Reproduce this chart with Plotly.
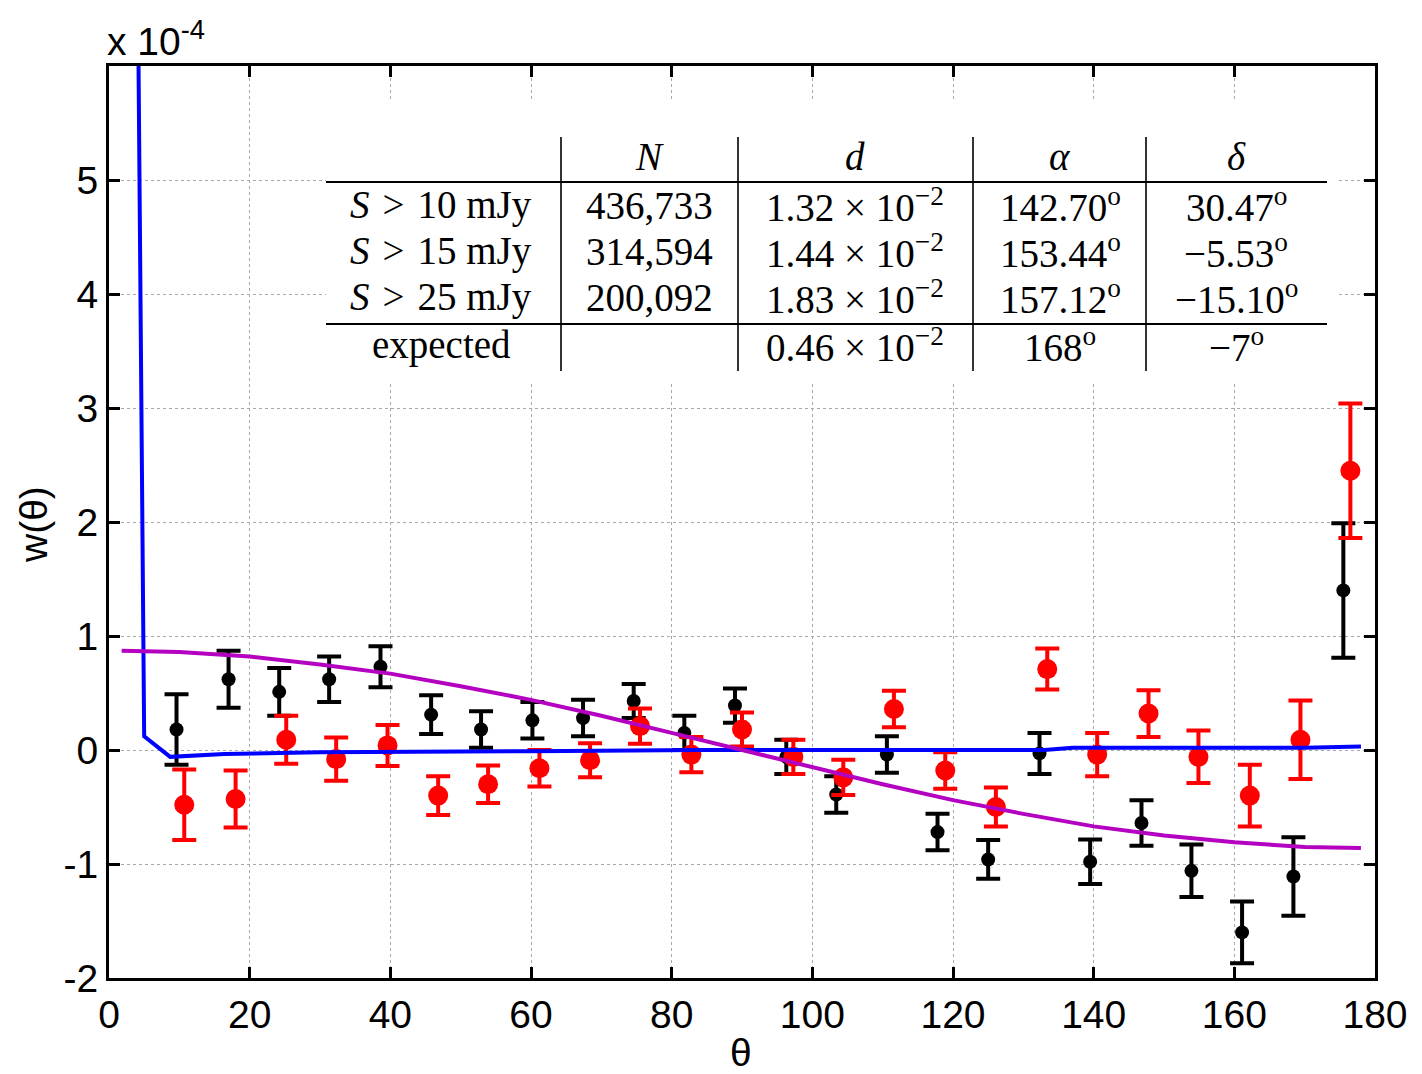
import plotly.graph_objects as go

# ---------------- data (w in units of 1e-4) ----------------
theta_black = [9.6, 17.0, 24.2, 31.3, 38.6, 45.8, 52.9, 60.2, 67.4, 74.6, 81.8, 89.0,
               96.3, 103.4, 110.6, 117.8, 125.0, 132.3, 139.5, 146.8, 153.9, 161.1, 168.4, 175.5]
w_black = [0.18, 0.62, 0.51, 0.62, 0.73, 0.31, 0.18, 0.26, 0.28, 0.43, 0.15, 0.39,
           -0.06, -0.39, -0.04, -0.72, -0.96, -0.03, -0.98, -0.64, -1.06, -1.60, -1.11, 1.40]
err_black = [0.31, 0.25, 0.21, 0.20, 0.18, 0.17, 0.16, 0.16, 0.16, 0.15, 0.15, 0.15,
             0.15, 0.16, 0.16, 0.16, 0.17, 0.18, 0.195, 0.20, 0.23, 0.27, 0.345, 0.59]

theta_red = [10.7, 18.0, 25.2, 32.3, 39.6, 46.8, 53.9, 61.2, 68.4, 75.5, 82.8, 90.0,
             97.3, 104.4, 111.6, 118.9, 126.1, 133.4, 140.5, 147.8, 154.9, 162.2, 169.4, 176.5]
w_red = [-0.48, -0.43, 0.09, -0.08, 0.04, -0.40, -0.30, -0.16, -0.09, 0.21, -0.04, 0.18,
         -0.06, -0.24, 0.36, -0.18, -0.50, 0.71, -0.04, 0.32, -0.06, -0.40, 0.09, 2.45]
err_red = [0.31, 0.25, 0.21, 0.19, 0.18, 0.17, 0.165, 0.16, 0.15, 0.155, 0.155, 0.15,
           0.15, 0.155, 0.16, 0.16, 0.17, 0.18, 0.19, 0.205, 0.23, 0.27, 0.345, 0.59]

theta_blue = [4.2, 5.0, 8.7, 16.4, 30, 46, 60, 84, 100, 120, 133, 137, 170, 178]
w_blue = [6.0, 0.12, -0.06, -0.035, -0.02, -0.01, -0.01, 0.0, 0.0, 0.005, 0.0, 0.02, 0.02, 0.03]

theta_mag = [1.8, 10, 20, 30, 40, 50, 60, 70, 80, 90, 100, 110, 120, 130, 140, 150, 160, 170, 178]
w_mag = [0.87, 0.86, 0.82, 0.75, 0.67, 0.56, 0.44, 0.30, 0.15, 0.0, -0.15, -0.30, -0.44,
         -0.56, -0.67, -0.75, -0.81, -0.85, -0.86]

x_ticks = [0, 20, 40, 60, 80, 100, 120, 140, 160, 180]
y_ticks = [-2, -1, 0, 1, 2, 3, 4, 5]

SP = "\u2004"
table_header = ["", "<i>N</i>", "<i>d</i>", "<i>α</i>", "<i>δ</i>"]
table_rows = [
    [f"<i>S</i>{SP}>{SP}10 mJy", "436,733", "1.32 × 10<sup>−2</sup>", "142.70<sup>o</sup>", "30.47<sup>o</sup>"],
    [f"<i>S</i>{SP}>{SP}15 mJy", "314,594", "1.44 × 10<sup>−2</sup>", "153.44<sup>o</sup>", "−5.53<sup>o</sup>"],
    [f"<i>S</i>{SP}>{SP}25 mJy", "200,092", "1.83 × 10<sup>−2</sup>", "157.12<sup>o</sup>", "−15.10<sup>o</sup>"],
    ["expected", "", "0.46 × 10<sup>−2</sup>", "168<sup>o</sup>", "−7<sup>o</sup>"],
]

# ---------------- layout geometry (screen pixels) ----------------
OFF = 8  # page body margin
W, H = 1422 - OFF, 1074 - OFF
X0, X1, Y0, Y1 = 109, 1375, 66, 978   # plot area on screen
L, T = X0 - OFF, Y0 - OFF
R, B = W + OFF - X1, H + OFF - Y1
PW, PH = X1 - X0, Y1 - Y0


def px(x):
    return (x - X0) / PW


def py(y):
    return (Y1 - y) / PH


fig = go.Figure()

fig.add_trace(go.Scatter(
    x=theta_black, y=w_black, mode="markers",
    marker=dict(color="black", size=14),
    error_y=dict(type="data", array=err_black, color="black", thickness=4, width=12),
    showlegend=False))

fig.add_trace(go.Scatter(
    x=theta_red, y=w_red, mode="markers",
    marker=dict(color="#FF0000", size=20),
    error_y=dict(type="data", array=err_red, color="#FF0000", thickness=4, width=12),
    showlegend=False))

fig.add_trace(go.Scatter(
    x=theta_blue, y=w_blue, mode="lines",
    line=dict(color="#0000FF", width=4), showlegend=False))

fig.add_trace(go.Scatter(
    x=theta_mag, y=w_mag, mode="lines",
    line=dict(color="#B400C0", width=4), showlegend=False))

shapes = []
# white background of the inset table
shapes.append(dict(type="rect", xref="paper", yref="paper",
                   x0=px(326), x1=px(1336), y0=py(383), y1=py(100),
                   fillcolor="white", line=dict(width=0), layer="above"))
for yy in (182, 324):
    shapes.append(dict(type="line", xref="paper", yref="paper",
                       x0=px(326), x1=px(1327), y0=py(yy), y1=py(yy),
                       line=dict(color="black", width=2), layer="above"))
for xx in (561, 738, 973, 1146):
    shapes.append(dict(type="line", xref="paper", yref="paper",
                       x0=px(xx), x1=px(xx), y0=py(137), y1=py(371),
                       line=dict(color="black", width=1.6), layer="above"))

annotations = []
col_x = [441, 649, 855, 1060, 1236]
row_y = [157, 205, 251, 297, 345]
serif = dict(family="Liberation Serif, Times New Roman, serif", size=39, color="black")
for j, txt in enumerate(table_header):
    if txt:
        annotations.append(dict(text=txt, x=px(col_x[j]), y=py(row_y[0]), xref="paper", yref="paper",
                                xanchor="center", yanchor="middle", showarrow=False, font=serif))
for i, row in enumerate(table_rows):
    for j, txt in enumerate(row):
        if txt:
            annotations.append(dict(text=txt, x=px(col_x[j]), y=py(row_y[i + 1]), xref="paper",
                                    yref="paper", xanchor="center", yanchor="middle",
                                    showarrow=False, font=serif))

sans = dict(family="Liberation Sans, Arial, sans-serif", size=39, color="black")
annotations.append(dict(text="x 10<sup>-4</sup>", x=px(105), y=py(65), xref="paper", yref="paper",
                        xanchor="left", yanchor="bottom", showarrow=False, font=sans))
annotations.append(dict(text="w(θ)", x=px(33), y=py(525), xref="paper", yref="paper",
                        xanchor="center", yanchor="middle", textangle=-90, showarrow=False, font=sans))
annotations.append(dict(text="θ", x=px(741), y=py(1052), xref="paper", yref="paper",
                        xanchor="center", yanchor="middle", showarrow=False, font=sans))

axis_common = dict(
    showline=True, linecolor="black", linewidth=3, mirror="ticks",
    ticks="inside", ticklen=11, tickwidth=3, tickcolor="black",
    showgrid=True, gridcolor="#A8A8A8", gridwidth=1, griddash="dot",
    zeroline=False, tickfont=sans,
)

fig.update_layout(
    width=W, height=H,
    margin=dict(l=L, r=R, t=T, b=B),
    paper_bgcolor="white", plot_bgcolor="white",
    xaxis=dict(range=[0, 180], tickvals=x_ticks, ticktext=[str(v) for v in x_ticks], **axis_common),
    yaxis=dict(range=[-2, 6], tickvals=y_ticks, ticktext=[str(v) for v in y_ticks], **axis_common),
    shapes=shapes, annotations=annotations,
    showlegend=False,
)

fig.write_html("out.html")
